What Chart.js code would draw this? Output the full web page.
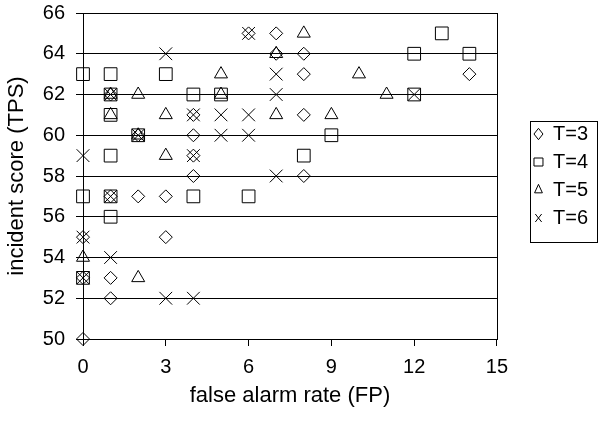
<!DOCTYPE html>
<html>
<head>
<meta charset="UTF-8">
<title>incident score vs false alarm rate</title>
<script src="https://cdn.jsdelivr.net/npm/chart.js"></script>
<style>
  html, body { margin: 0; padding: 0; background: #fff; }
  #wrap { width: 598px; height: 423px; }
</style>
</head>
<body>
<div id="wrap"><canvas id="grafico" width="598" height="423"></canvas></div>
<script>
// valores (FP, TPS) para cada T
const t3x = [0, 0, 0, 1, 1, 1, 1, 2, 2, 3, 3, 4, 4, 4, 4, 6, 7, 7, 8, 8, 8, 8, 14];
const t3y = [50, 53, 55, 52, 53, 57, 62, 57, 60, 55, 57, 58, 59, 60, 61, 65, 64, 65, 58, 61, 63, 64, 63];

const t4x = [0, 0, 0, 1, 1, 1, 1, 1, 1, 2, 3, 4, 4, 5, 6, 8, 9, 12, 12, 13, 14];
const t4y = [53, 57, 63, 56, 57, 59, 61, 62, 63, 60, 63, 57, 62, 62, 57, 59, 60, 62, 64, 65, 64];

const t5x = [0, 1, 1, 2, 2, 2, 3, 3, 5, 5, 7, 7, 8, 9, 10, 11];
const t5y = [54, 61, 62, 53, 60, 62, 59, 61, 62, 63, 61, 64, 65, 61, 63, 62];

const t6x = [0, 0, 0, 1, 1, 1, 2, 3, 3, 4, 4, 4, 5, 5, 6, 6, 6, 7, 7, 7, 12];
const t6y = [53, 55, 59, 54, 57, 62, 60, 52, 64, 52, 59, 61, 60, 61, 60, 61, 65, 58, 62, 63, 62];

const serieNomes = ['T=3', 'T=4', 'T=5', 'T=6'];
const xTicks = [0, 3, 6, 9, 12, 15];
const yTicks = [50, 52, 54, 56, 58, 60, 62, 64, 66];

function pares(xs, ys) {
    return xs.map((x, i) => ({ x: x, y: ys[i] }));
}

const familia = 'Arial, "Liberation Sans", sans-serif';
const fonte = { family: familia, size: 20 };
const fonteTitulo = { family: familia, size: 22 };

// moldura da área do gráfico e caixa da legenda
const molduras = {
    id: 'molduras',
    afterDraw(chart) {
        const ctx = chart.ctx;
        const a = chart.chartArea;
        ctx.save();
        ctx.strokeStyle = '#000';
        ctx.lineWidth = 1;
        ctx.strokeRect(Math.round(a.left) + 0.5, Math.round(a.top) + 0.5,
            Math.round(a.right - a.left), Math.round(a.bottom - a.top));

        const leg = chart.legend;
        const caixas = leg.legendHitBoxes;
        if (caixas && caixas.length) {
            let l = Infinity, t = Infinity, r = -Infinity, b = -Infinity;
            caixas.forEach(c => {
                l = Math.min(l, c.left); t = Math.min(t, c.top);
                r = Math.max(r, c.left + c.width); b = Math.max(b, c.top + c.height);
            });
            ctx.strokeRect(Math.round(l - 4) + 0.5, Math.round(t - 3) + 0.5,
                Math.min(Math.round(r - l + 13), 597 - Math.round(l - 4)), Math.round(b - t + 17));
        }
        ctx.restore();
    }
};

const estilos = ['rectRot', 'rect', 'triangle', 'crossRot'];
const raios = [6.5, 9, 7.5, 9];
const dadosX = [t3x, t4x, t5x, t6x];
const dadosY = [t3y, t4y, t5y, t6y];

const config = {
    type: 'scatter',
    data: {
        datasets: serieNomes.map((nome, i) => ({
            label: nome,
            data: pares(dadosX[i], dadosY[i]),
            pointStyle: estilos[i],
            pointRadius: raios[i],
            pointHoverRadius: raios[i],
            pointBorderWidth: 1,
            borderColor: '#000',
            backgroundColor: 'rgba(0,0,0,0)',
            clip: false
        }))
    },
    options: {
        responsive: false,
        animation: false,
        layout: { padding: { left: 0, right: 0, top: 13, bottom: 0 } },
        plugins: {
            tooltip: { enabled: false },
            legend: {
                position: 'right',
                fullSize: false,
                labels: {
                    color: '#000',
                    font: fonte,
                    usePointStyle: true,
                    boxHeight: 8,
                    pointStyleWidth: 9,
                    padding: 8
                }
            }
        },
        scales: {
            x: {
                type: 'linear',
                min: 0,
                max: 15,
                afterBuildTicks: axis => { axis.ticks = xTicks.map(v => ({ value: v })); },
                afterFit: axis => { axis.height = 84; },
                ticks: { color: '#000', font: fonte, padding: 9, maxRotation: 0 },
                grid: { drawOnChartArea: false, drawTicks: true, tickLength: 7, color: '#000' },
                border: { display: true, color: '#000' },
                title: { display: true, text: 'false alarm rate (FP)', color: '#000', font: fonteTitulo, padding: { top: 0, bottom: 14 } }
            },
            y: {
                type: 'linear',
                min: 50,
                max: 66,
                afterBuildTicks: axis => { axis.ticks = yTicks.map(v => ({ value: v })); },
                afterFit: axis => { axis.width = 83; },
                // padding 0 + traço longo: só os 7px junto ao eixo ficam visíveis
                ticks: { color: '#000', font: fonte, padding: 0 },
                grid: {
                    drawOnChartArea: true, drawTicks: true, tickLength: 18, color: '#000',
                    tickBorderDash: [7, 11], tickBorderDashOffset: 7
                },
                border: { display: true, color: '#000' },
                title: { display: true, text: 'incident score (TPS)', color: '#000', font: fonteTitulo, padding: { top: 4, bottom: 0 } }
            },
            // espaço vazio entre o gráfico e a legenda
            espaco: {
                type: 'linear',
                position: 'right',
                min: 0,
                max: 1,
                afterFit: axis => { axis.width = 29; },
                ticks: { display: false },
                grid: { display: false },
                border: { display: false }
            }
        }
    },
    plugins: [molduras]
};

new Chart(document.getElementById('grafico').getContext('2d'), config);
</script>
</body>
</html>
